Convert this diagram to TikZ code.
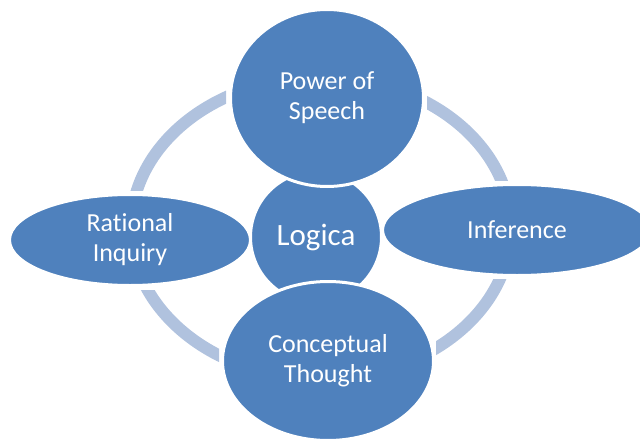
\documentclass[tikz,border=0pt]{standalone}
\usepackage{fontspec}
\setmainfont{Carlito}[Ligatures={NoCommon,NoContextual}]
\usepackage{xcolor}
\usepackage{tikz}
\usetikzlibrary{shapes,shapes.geometric}
\usetikzlibrary{calc,positioning}
\definecolor{petalblue}{RGB}{79,129,189}
\definecolor{ringblue}{RGB}{176,194,222}
\tikzset{
  petal/.style = {ellipse, fill=petalblue, draw=white, line width=3pt, text=white, align=center, inner sep=0pt, font=\fontsize{26}{30}\selectfont},
  hub/.style = {circle, fill=petalblue, draw=white, line width=3pt, text=white, inner sep=0pt, minimum size=131pt, font=\fontsize{31}{36}\selectfont},
  ringarc/.style = {draw=ringblue, line width=12pt}
}

\begin{document}
\begin{tikzpicture}[x=1pt, y=-1pt]
  \useasboundingbox (0,0) rectangle (640,439);
  \coordinate (ringc) at (321,228);
  % ring round the petals, cut into four arcs
  \foreach \xa/\ya/\xb/\yb in {0/0/226/190, 427/0/640/180, 436/279/640/439, 0/290/219/439}{
    \begin{scope}
      \clip (\xa,\ya) rectangle (\xb,\yb);
      \draw[ringarc] (ringc) ellipse [x radius=190, y radius=151];
    \end{scope}
  }
  \node[hub] (logica) at (316,237) {Logica};
  \node[petal, minimum width=193pt, minimum height=177pt] (speech) at (327,98) {Power of\\Speech};
  \node[petal, minimum width=211pt, minimum height=159pt] (thought) at (328,361) {Conceptual\\Thought};
  \node[petal, minimum width=241pt, minimum height=91pt] (inquiry) at (130,240) {Rational\\Inquiry};
  \node[petal, minimum width=269pt, minimum height=91pt] (inference) at (517,230) {Inference};
\end{tikzpicture}
\end{document}
